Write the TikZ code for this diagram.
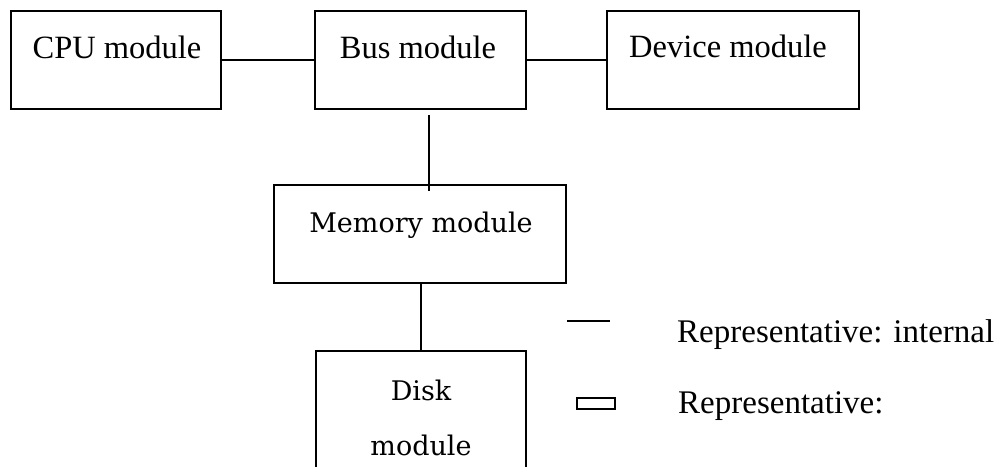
\documentclass[tikz,border=0pt]{standalone}
\usepackage{fontspec}
\setmainfont{Liberation Serif}
\newfontfamily\memfont{DejaVu Serif}
\begin{document}
\begin{tikzpicture}[x=1pt,y=-1pt,
  box/.style={draw, line width=2.6pt, rectangle, inner sep=0pt},
  conn/.style={line width=2.4pt},
  lbl/.style={anchor=base, inner sep=0pt, font=\fontsize{32.5}{38}\selectfont},
  mlbl/.style={anchor=base, inner sep=0pt, font=\memfont\fontsize{27}{32}\selectfont},
  leglbl/.style={anchor=base west, inner sep=0pt, font=\fontsize{33}{38}\selectfont}]
\useasboundingbox (0,0) rectangle (996,466);
% boxes
\node[box, minimum width=210pt, minimum height=98pt] (cpu) at (116,60) {};
\node[box, minimum width=211pt, minimum height=98pt] (bus) at (420.5,60) {};
\node[box, minimum width=252pt, minimum height=98pt] (dev) at (733,60) {};
\node[box, minimum width=292pt, minimum height=98pt] (mem) at (420,234) {};
\node[box, minimum width=210pt, minimum height=129pt] (disk) at (421,415.5) {};
% texts
\node[lbl] (cput) at (117,58) {CPU module};
\node[lbl] (bust) at (418,58) {Bus module};
\node[lbl] (devt) at (728,57) {Device module};
\node[mlbl] (memt) at (421,232) {Memory module};
\node[mlbl] (diskt1) at (421,400) {Disk};
\node[mlbl] (diskt2) at (421,455) {module};
% connectors
\draw[conn] (cpu.east) -- (bus.west);
\draw[conn] (bus.east) -- (dev.west);
\draw[conn] ([xshift=8.5pt,yshift=-5pt]bus.south) -- ([xshift=9pt,yshift=-7pt]mem.north);
\draw[conn] (mem.south -| disk.north) -- (disk.north);
% legend
\coordinate (l1) at (567,321);
\coordinate (l2) at (610,321);
\draw[line width=1.8pt] (l1) -- (l2);
\node[draw, line width=2.2pt, rectangle, inner sep=0pt, minimum width=38pt, minimum height=11pt] (lrect) at (596,403.5) {};
\node[leglbl] (leg1) at (677,342) {Representative: internal};
\node[leglbl] (leg2) at (678,413) {Representative:};
\end{tikzpicture}
\end{document}
